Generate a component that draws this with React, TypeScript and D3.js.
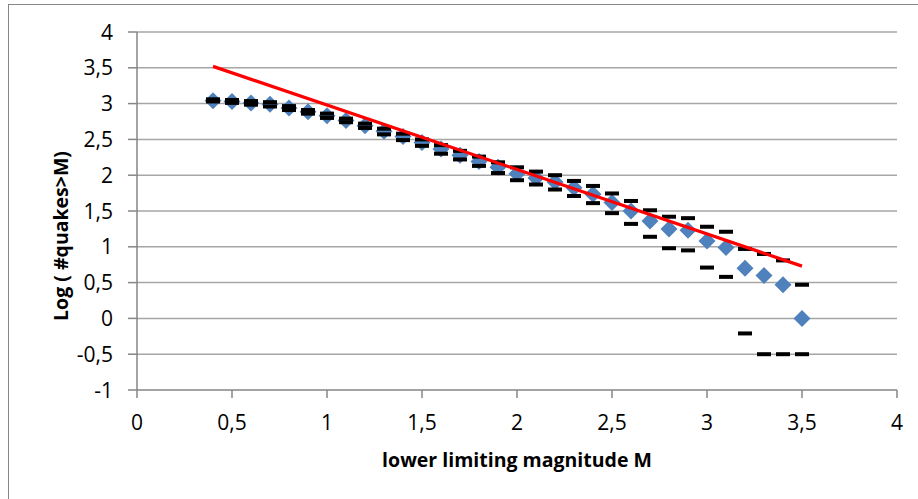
import React from 'react';
import * as d3 from 'd3';

// lower limiting magnitude M
const magnitudes = [
  0.4, 0.5, 0.6, 0.7, 0.8, 0.9, 1.0, 1.1, 1.2, 1.3, 1.4, 1.5, 1.6, 1.7, 1.8, 1.9,
  2.0, 2.1, 2.2, 2.3, 2.4, 2.5, 2.6, 2.7, 2.8, 2.9, 3.0, 3.1, 3.2, 3.3, 3.4, 3.5,
];
// log(#quakes > M)
const logCounts = [
  3.04, 3.03, 3.01, 2.99, 2.94, 2.885, 2.83, 2.765, 2.69, 2.615, 2.54, 2.455, 2.365, 2.28, 2.19, 2.11,
  2.02, 1.96, 1.905, 1.825, 1.735, 1.62, 1.5, 1.36, 1.25, 1.23, 1.08, 0.99, 0.7, 0.6, 0.47, 0.0,
];
const upperBand = [
  3.06, 3.05, 3.035, 3.02, 2.965, 2.91, 2.86, 2.79, 2.72, 2.65, 2.58, 2.5, 2.42, 2.34, 2.26, 2.18,
  2.11, 2.05, 2.0, 1.92, 1.85, 1.745, 1.64, 1.51, 1.42, 1.4, 1.28, 1.21, 0.97, 0.9, 0.81, 0.47,
];
const lowerBand = [
  3.03, 3.01, 2.985, 2.96, 2.91, 2.86, 2.8, 2.74, 2.66, 2.57, 2.49, 2.41, 2.3, 2.22, 2.13, 2.03,
  1.93, 1.87, 1.8, 1.71, 1.61, 1.47, 1.32, 1.14, 0.98, 0.95, 0.71, 0.58, -0.21, -0.5, -0.5, -0.5,
];
// fitted line end points
const fitX = [0.4, 3.5];
const fitY = [3.52, 0.73];

const xTicks = [0, 0.5, 1, 1.5, 2, 2.5, 3, 3.5, 4];
const yTicks = [-1, -0.5, 0, 0.5, 1, 1.5, 2, 2.5, 3, 3.5, 4];

const fmt = (v: number) => String(v).replace('.', ',');

const App = () => {
  const W = 918, H = 499;
  const x = d3.scaleLinear().domain([0, 4]).range([137, 897]);
  const y = d3.scaleLinear().domain([-1, 4]).range([390, 32]);
  const font = "'Open Sans', 'Liberation Sans', sans-serif";
  const grid = '#a6a6a6';
  const axis = '#868686';

  const line = d3.line<number>()
    .x((d, i) => x(fitX[i]))
    .y(d => y(d));

  const diamond = 'M0,-8.5L8.5,0L0,8.5L-8.5,0Z';

  return (
    <svg width={W} height={H} style={{ position: 'absolute', left: 0, top: 0, background: '#fff' }}>
      <rect x={8.5} y={4.5} width={W + 20} height={H + 20} fill="#fff" stroke={axis} strokeWidth={1} />

      {yTicks.filter(t => t > -1).map(t => (
        <line key={'g' + t} x1={x(0)} x2={x(4)} y1={y(t)} y2={y(t)} stroke={grid} strokeWidth={1.5} />
      ))}

      <line x1={x(0)} x2={x(0)} y1={y(4)} y2={y(-1)} stroke={axis} strokeWidth={1.5} />
      <line x1={x(0)} x2={x(4)} y1={y(-1)} y2={y(-1)} stroke={axis} strokeWidth={1.5} />

      {yTicks.map(t => (
        <g key={'y' + t}>
          <line x1={x(0) - 9} x2={x(0)} y1={y(t)} y2={y(t)} stroke={axis} strokeWidth={1.5} />
          <text x={113} y={y(t)} dy="0.36em" textAnchor="end" fontFamily={font} fontSize={21} fill="#000">
            {fmt(t)}
          </text>
        </g>
      ))}
      {xTicks.map(t => (
        <g key={'x' + t}>
          <line x1={x(t)} x2={x(t)} y1={y(-1)} y2={y(-1) + 8} stroke={axis} strokeWidth={1.5} />
          <text x={x(t)} y={430} textAnchor="middle" fontFamily={font} fontSize={21} fill="#000">
            {fmt(t)}
          </text>
        </g>
      ))}

      <text x={517} y={467} textAnchor="middle" fontFamily={font} fontSize={19.5} fontWeight="bold" fill="#000">
        lower limiting magnitude M
      </text>
      <text transform={`translate(68,${236}) rotate(-90)`} textAnchor="middle" fontFamily={font} fontSize={19.5} fontWeight="bold" fill="#000">
        Log ( #quakes&gt;M)
      </text>

      {magnitudes.map((m, i) => (
        <path key={'d' + i} d={diamond} transform={`translate(${x(m)},${y(logCounts[i])})`} fill="#4f81bd" />
      ))}
      {magnitudes.map((m, i) => (
        <g key={'b' + i} fill="#000">
          <rect x={x(m) - 7} y={y(upperBand[i]) - 2} width={14} height={4} />
          <rect x={x(m) - 7} y={y(lowerBand[i]) - 2} width={14} height={4} />
        </g>
      ))}
      <path d={line(fitY) || ''} fill="none" stroke="#ff0000" strokeWidth={3.2} />
    </svg>
  );
};

export default App;
